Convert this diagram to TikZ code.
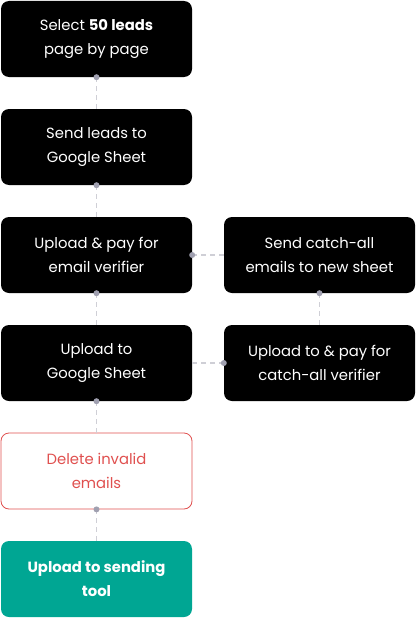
\documentclass[tikz,border=0pt]{standalone}
\usepackage{fontspec}
\setmainfont{Poppins}
\definecolor{dashgray}{HTML}{CFCFD6}
\definecolor{dotgray}{HTML}{A0A0B0}
\definecolor{redc}{HTML}{E0504F}
\definecolor{tealc}{HTML}{00A693}
\tikzset{
  box/.style={rectangle, rounded corners=8pt, minimum width=191pt, minimum height=76pt, align=center, inner sep=0pt, font=\fontsize{14.8}{24}\selectfont},
  darkbox/.style={box, fill=black, text=white},
  redbox/.style={box, draw=redc, line width=0.8pt, fill=white, text=redc},
  tealbox/.style={box, fill=tealc, text=white, font=\fontsize{14.8}{24}\selectfont\bfseries},
  conn/.style={draw=dashgray, line width=1.2pt, dash pattern=on 5pt off 4pt},
  srcdot/.style={circle, fill=dotgray, inner sep=0pt, minimum size=6pt}
}
\begin{document}
\begin{tikzpicture}[x=1pt,y=-1pt]
\useasboundingbox (0,0) rectangle (416,618);
\node[darkbox] (n1) at (96.5,39) {Select \textbf{50 leads}\\page by page};
\node[darkbox] (n2) at (96.5,147) {Send leads to\\Google Sheet};
\node[darkbox] (n3) at (96.5,255) {Upload \& pay for\\email verifier};
\node[darkbox] (n4) at (96.5,363) {Upload to\\Google Sheet};
\node[redbox] (n5) at (96.5,471) {Delete invalid\\emails};
\node[tealbox] (n6) at (96.5,579) {Upload to sending\\tool};
\node[darkbox] (r1) at (319.5,255) {Send catch-all\\emails to new sheet};
\node[darkbox] (r2) at (319.5,363) {Upload to \& pay for\\catch-all verifier};
\foreach \a/\b in {n1/n2,n2/n3,n3/n4,n4/n5,n5/n6,r1/r2}{
  \draw[conn] (\a.south) -- (\b.north);
  \node[srcdot] at (\a.south) {};
}
\draw[conn] (n3.east) -- (r1.west);
\node[srcdot] at (n3.east) {};
\draw[conn] (r2.west) -- (n4.east);
\node[srcdot] at (r2.west) {};
\end{tikzpicture}
\end{document}
